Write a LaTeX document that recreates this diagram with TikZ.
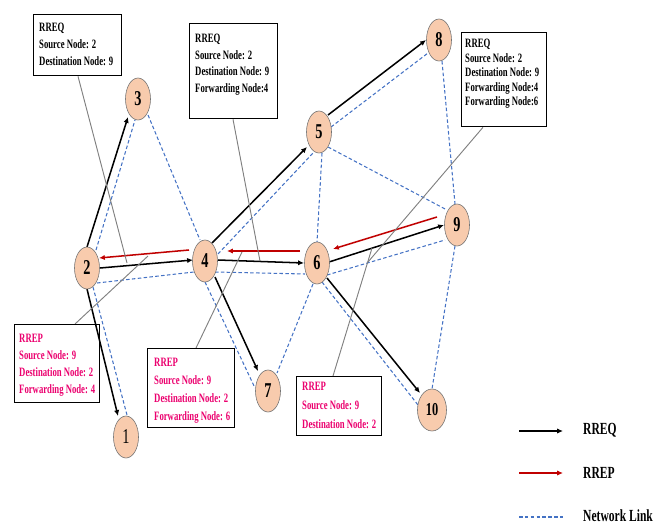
\documentclass[tikz,border=0pt]{standalone}
\usepackage{fontspec}
\setmainfont{Liberation Serif}
\newfontfamily\cond[FakeStretch=0.68]{Liberation Serif}
\usetikzlibrary{arrows.meta,shapes.geometric}
\pgfdeclarelayer{bg}
\pgfsetlayers{bg,main}
\definecolor{peach}{HTML}{F8CBAD}
\definecolor{linkblue}{HTML}{4472C4}
\definecolor{rrepred}{HTML}{C00000}
\definecolor{pinktext}{RGB}{235,0,110}
\definecolor{leadgray}{HTML}{808080}
\tikzset{
  nd/.style={ellipse, draw=black!55, line width=0.5pt, fill=peach, minimum width=0.75cm, minimum height=1.26cm, inner sep=0pt, font=\cond\bfseries\fontsize{18}{18}\selectfont},
  rreq/.style={draw=black, line width=1.3pt, -{Latex[length=5pt,width=4.5pt]}},
  rrep/.style={draw=rrepred, line width=1.3pt, -{Latex[length=5pt,width=4.5pt]}},
  netlink/.style={draw=linkblue, line width=0.9pt, dash pattern=on 3pt off 2pt},
  lead/.style={draw=leadgray, line width=0.8pt},
  boxr/.style={draw=black, line width=1.1pt, inner sep=0pt, anchor=north west},
  txt/.style={anchor=north west, inner sep=0pt, align=left, font=\cond\bfseries\fontsize{10.9}{#1}\selectfont},
  legtxt/.style={anchor=west, inner sep=0pt, font=\cond\bfseries\fontsize{14.5}{14.5}\selectfont}
}
\begin{document}
\begin{tikzpicture}[x=0.03cm, y=-0.03cm]
\useasboundingbox (0,0) rectangle (662,525);

% nodes
\node[nd] (n1) at (126,437) {\mdseries 1};
\node[nd] (n2) at (87,268) {2};
\node[nd] (n3) at (138,99) {3};
\node[nd] (n4) at (205,261) {4};
\node[nd] (n5) at (319,132) {5};
\node[nd] (n6) at (317,263) {6};
\node[nd] (n7) at (268,391) {7};
\node[nd] (n8) at (439,40) {8};
\node[nd] (n9) at (457,225) {9};
\node[nd, minimum width=0.87cm, font=\cond\bfseries\fontsize{15.5}{15.5}\selectfont] (n10) at (432,410) {10};

% callout boxes
\node[boxr, minimum width=2.64cm, minimum height=1.83cm] (bA) at (33,14) {};
\node[boxr, minimum width=2.64cm, minimum height=2.85cm] (bB) at (189,23) {};
\node[boxr, minimum width=2.55cm, minimum height=2.82cm] (bC) at (461,32) {};
\node[boxr, minimum width=2.55cm, minimum height=2.34cm] (bD) at (14,324) {};
\node[boxr, minimum width=2.61cm, minimum height=2.37cm] (bE) at (147,348) {};
\node[boxr, minimum width=2.55cm, minimum height=1.77cm] (bF) at (296,376) {};

\node[txt=14.5] (tA) at (39,23) {RREQ\\Source Node: 2\\Destination Node: 9};
\node[txt=14.2] (tB) at (195,34) {RREQ\\Source Node: 2\\Destination Node: 9\\Forwarding Node:4};
\node[txt=12.4] (tC) at (465,39) {RREQ\\Source Node: 2\\Destination Node: 9\\Forwarding Node:4\\Forwarding Node:6};
\node[txt=14.5, text=pinktext] (tD) at (19,334) {RREP\\Source Node: 9\\Destination Node: 2\\Forwarding Node: 4};
\node[txt=15.3, text=pinktext] (tE) at (154,358) {RREP\\Source Node: 9\\Destination Node: 2\\Forwarding Node: 6};
\node[txt=16.2, text=pinktext] (tF) at (302,382) {RREP\\Source Node: 9\\Destination Node: 2};

% leader ends
\coordinate (lA) at (127,263);
\coordinate (lB) at (260,261);
\coordinate (lC) at (368,262);
\coordinate (lD) at (148,256);
\coordinate (lE) at (242,252);
\coordinate (lF) at (372,248);

% legend
\coordinate (g1a) at (519,431); \coordinate (g1b) at (563,431);
\coordinate (g2a) at (519,473); \coordinate (g2b) at (563,473);
\coordinate (g3a) at (519,517); \coordinate (g3b) at (563,517);
\node[legtxt] (L1) at (583,430) {RREQ};
\node[legtxt] (L2) at (583,473) {RREP};
\node[legtxt] (L3) at (583,516) {Network Link};

\begin{pgfonlayer}{bg}
% network links
\draw[netlink] ([shift={(9,-18)}]n2.center) -- ([shift={(-3,21)}]n3.center);
\draw[netlink] ([shift={(10,16)}]n3.center) -- ([shift={(-5,-21)}]n4.center);
\draw[netlink] ([shift={(10,15)}]n2.center) -- ([shift={(-11,11)}]n4.center);
\draw[netlink] ([shift={(6,19)}]n2.center) -- ([shift={(1,-22)}]n1.center);
\draw[netlink] ([shift={(13,-7)}]n4.center) -- ([shift={(-6,21)}]n5.center);
\draw[netlink] ([shift={(10,11)}]n4.center) -- ([shift={(-12,11)}]n6.center);
\draw[netlink] ([shift={(0,21)}]n4.center) -- ([shift={(-13,-3)}]n7.center);
\draw[netlink] ([shift={(12,-5)}]n5.center) -- ([shift={(-11,13)}]n8.center);
\draw[netlink] ([shift={(3,21)}]n5.center) -- ([shift={(0,-21)}]n6.center);
\draw[netlink] ([shift={(9,15)}]n5.center) -- ([shift={(-10,-15)}]n9.center);
\draw[netlink] ([shift={(10,12)}]n6.center) -- ([shift={(-12,15)}]n9.center);
\draw[netlink] ([shift={(5,19)}]n6.center) -- ([shift={(-14,-5)}]n10.center);
\draw[netlink] ([shift={(-4,21)}]n6.center) -- ([shift={(9,-18)}]n7.center);
\draw[netlink] ([shift={(3,21)}]n8.center) -- ([shift={(-2,-21)}]n9.center);
\draw[netlink] ([shift={(-2,21)}]n9.center) -- ([shift={(0,-21)}]n10.center);

% RREQ
\draw[rreq] ([shift={(0,-21)}]n2.center) -- ([shift={(-10,18)}]n3.center);
\draw[rreq] ([shift={(13,0)}]n2.center) -- ([shift={(-12,-1)}]n4.center);
\draw[rreq] ([shift={(0,21)}]n2.center) -- ([shift={(-8,-21)}]n1.center);
\draw[rreq] ([shift={(7,-18)}]n4.center) -- ([shift={(-12,15)}]n5.center);
\draw[rreq] ([shift={(13,-1)}]n4.center) -- ([shift={(-13,0)}]n6.center);
\draw[rreq] ([shift={(10,16)}]n4.center) -- ([shift={(-10,-20)}]n7.center);
\draw[rreq] ([shift={(9,-17)}]n5.center) -- ([shift={(-13,0)}]n8.center);
\draw[rreq] ([shift={(12,-1)}]n6.center) -- ([shift={(-13,0)}]n9.center);
\draw[rreq] ([shift={(10,15)}]n6.center) -- ([shift={(-12,-17)}]n10.center);

% RREP
\draw[rrep] ([shift={(-20,-8)}]n9.center) -- ([shift={(16,-14)}]n6.center);
\draw[rrep] ([shift={(-17,-12)}]n6.center) -- ([shift={(22,-10)}]n4.center);
\draw[rrep] ([shift={(-16,-11)}]n4.center) -- ([shift={(12,-10)}]n2.center);

% leaders
\draw[lead] ([shift={(45,0)}]bA.south west) -- (lA);
\draw[lead] ([shift={(44,0)}]bB.south west) -- (lB);
\draw[lead] ([shift={(22,0)}]bC.south west) -- (lC);
\draw[lead] ([shift={(61,0)}]bD.north west) -- (lD);
\draw[lead] ([shift={(49,0)}]bE.north west) -- (lE);
\draw[lead] ([shift={(37,0)}]bF.north west) -- (lF);

% legend lines
\draw[rreq] (g1a) -- (g1b);
\draw[rrep] (g2a) -- (g2b);
\draw[netlink] (g3a) -- (g3b);
\end{pgfonlayer}
\end{tikzpicture}
\end{document}
